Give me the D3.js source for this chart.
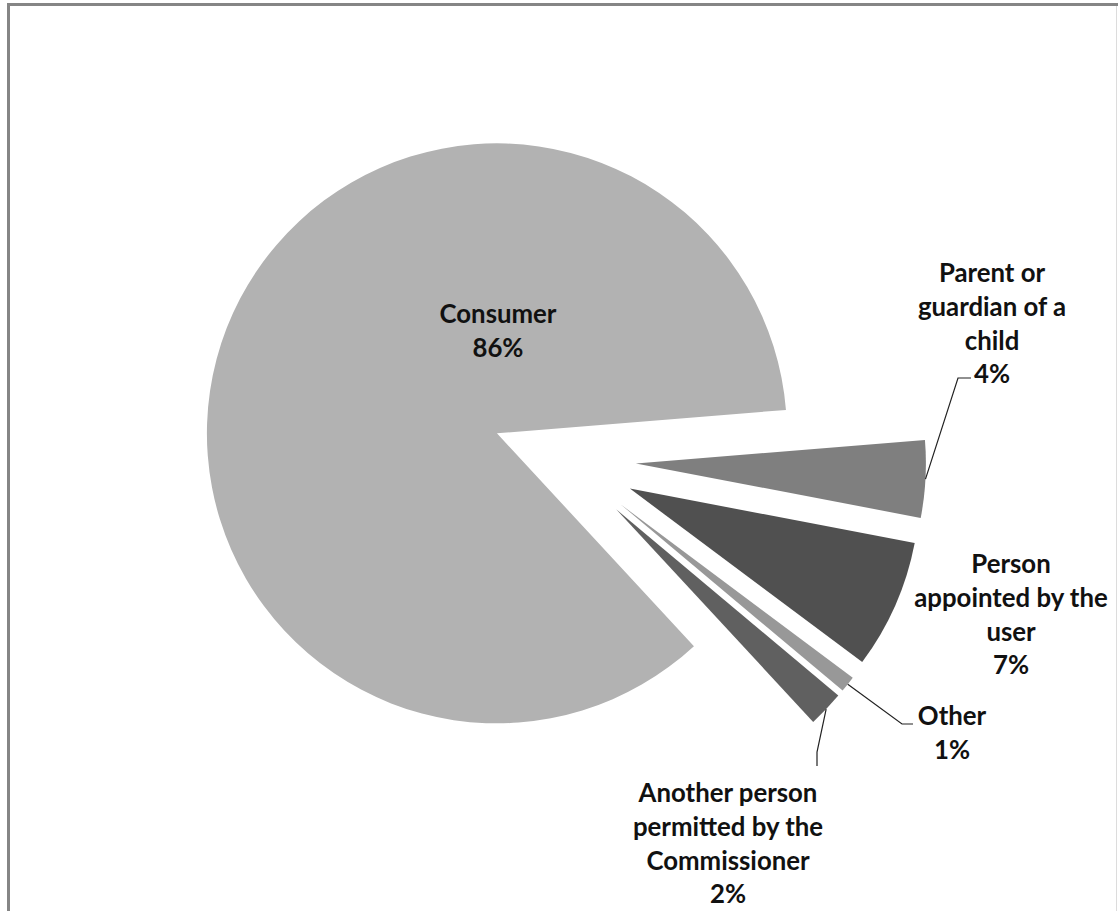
<!DOCTYPE html>
<html><head><meta charset="utf-8">
<script src="https://cdn.jsdelivr.net/npm/d3@7"></script>
<style>html,body{margin:0;padding:0;background:#fff;} svg{display:block}</style>
</head><body>
<svg id="chart" width="1118" height="911"></svg>
<script>
// ---- data ----
const categories = ["Consumer", "Parent or guardian of a child", "Person appointed by the user", "Other", "Another person permitted by the Commissioner"];
const values = [85.6, 4.3, 7.2, 0.9, 2.0];
const labelLines = [["Consumer"], ["Parent or", "guardian of a", "child"], ["Person", "appointed by the", "user"], ["Other"], ["Another person", "permitted by the", "Commissioner"]];
const colors = ["#b2b2b2", "#7f7f7f", "#505050", "#989898", "#606060"];

// ---- layout ----
const W = 1118, H = 911;
const cx = 564, cy = 459.5, R = 290, explode = 72;
const startDeg = 137.2;
const labelPos = [[498, 313], [992, 272], [1011, 563], [952, 715], [728, 792]];
const lineH = 33.8;
const leaderPts = [null, [[958, 378], [971, 378]], null, [[902, 724], [913, 724]], [[817, 752], [817, 766]]];

const svg = d3.select("#chart");
svg.append("rect").attr("width", W).attr("height", H).attr("fill", "#fff");

// chart border
svg.append("path").attr("d", `M8.5,${H + 5} V4.5 H${W + 5}`).attr("fill", "none").attr("stroke", "#858585").attr("stroke-width", 3);
svg.append("line").attr("x1", 1116.5).attr("x2", 1116.5).attr("y1", 6).attr("y2", H).attr("stroke", "#dcdcdc").attr("stroke-width", 1);

const rad = Math.PI / 180;
const pie = d3.pie().sort(null).value(d => d.value)
  .startAngle(startDeg * rad).endAngle(startDeg * rad + 2 * Math.PI);
const data = categories.map((c, i) => ({ name: c, value: values[i], lines: labelLines[i], color: colors[i], i }));
const arcs = pie(data);
const arc = d3.arc().innerRadius(0).outerRadius(R);

const g = svg.append("g").attr("transform", `translate(${cx},${cy})`);
arcs.forEach(a => {
  const mid = (a.startAngle + a.endAngle) / 2;
  a.ox = explode * Math.sin(mid);
  a.oy = -explode * Math.cos(mid);
  a.mid = mid;
});
g.selectAll("path.slice").data(arcs).join("path")
  .attr("class", "slice")
  .attr("transform", d => `translate(${d.ox},${d.oy})`)
  .attr("d", arc)
  .attr("fill", d => d.data.color);

// leader lines
arcs.forEach((a, i) => {
  const pts = leaderPts[i];
  if (!pts) return;
  const sx = cx + a.ox + R * Math.sin(a.mid);
  const sy = cy + a.oy - R * Math.cos(a.mid);
  const line = d3.line();
  svg.append("path").attr("d", line([[sx, sy], ...pts]))
    .attr("fill", "none").attr("stroke", "#222").attr("stroke-width", 1.2);
});

// font sizing to match reference text widths
const fontFamily = "Lato, 'Open Sans', 'Liberation Sans', sans-serif";
const probe = svg.append("text").attr("font-family", fontFamily).attr("font-weight", 700).attr("font-size", 100).text("Consumer");
const len = probe.node().getComputedTextLength();
probe.remove();
const fs = 100 * 117 / len;

// labels
arcs.forEach((a, i) => {
  const [lx, ly] = labelPos[i];
  const lines = [...a.data.lines, Math.round(a.data.value) + "%"];
  const t = svg.append("text")
    .attr("font-family", fontFamily).attr("font-weight", 700)
    .attr("font-size", fs).attr("fill", "#111")
    .attr("text-anchor", "middle");
  lines.forEach((s, k) => {
    t.append("tspan").attr("x", lx).attr("y", ly + k * lineH)
      .attr("dominant-baseline", "central").text(s);
  });
});
</script>
</body></html>
